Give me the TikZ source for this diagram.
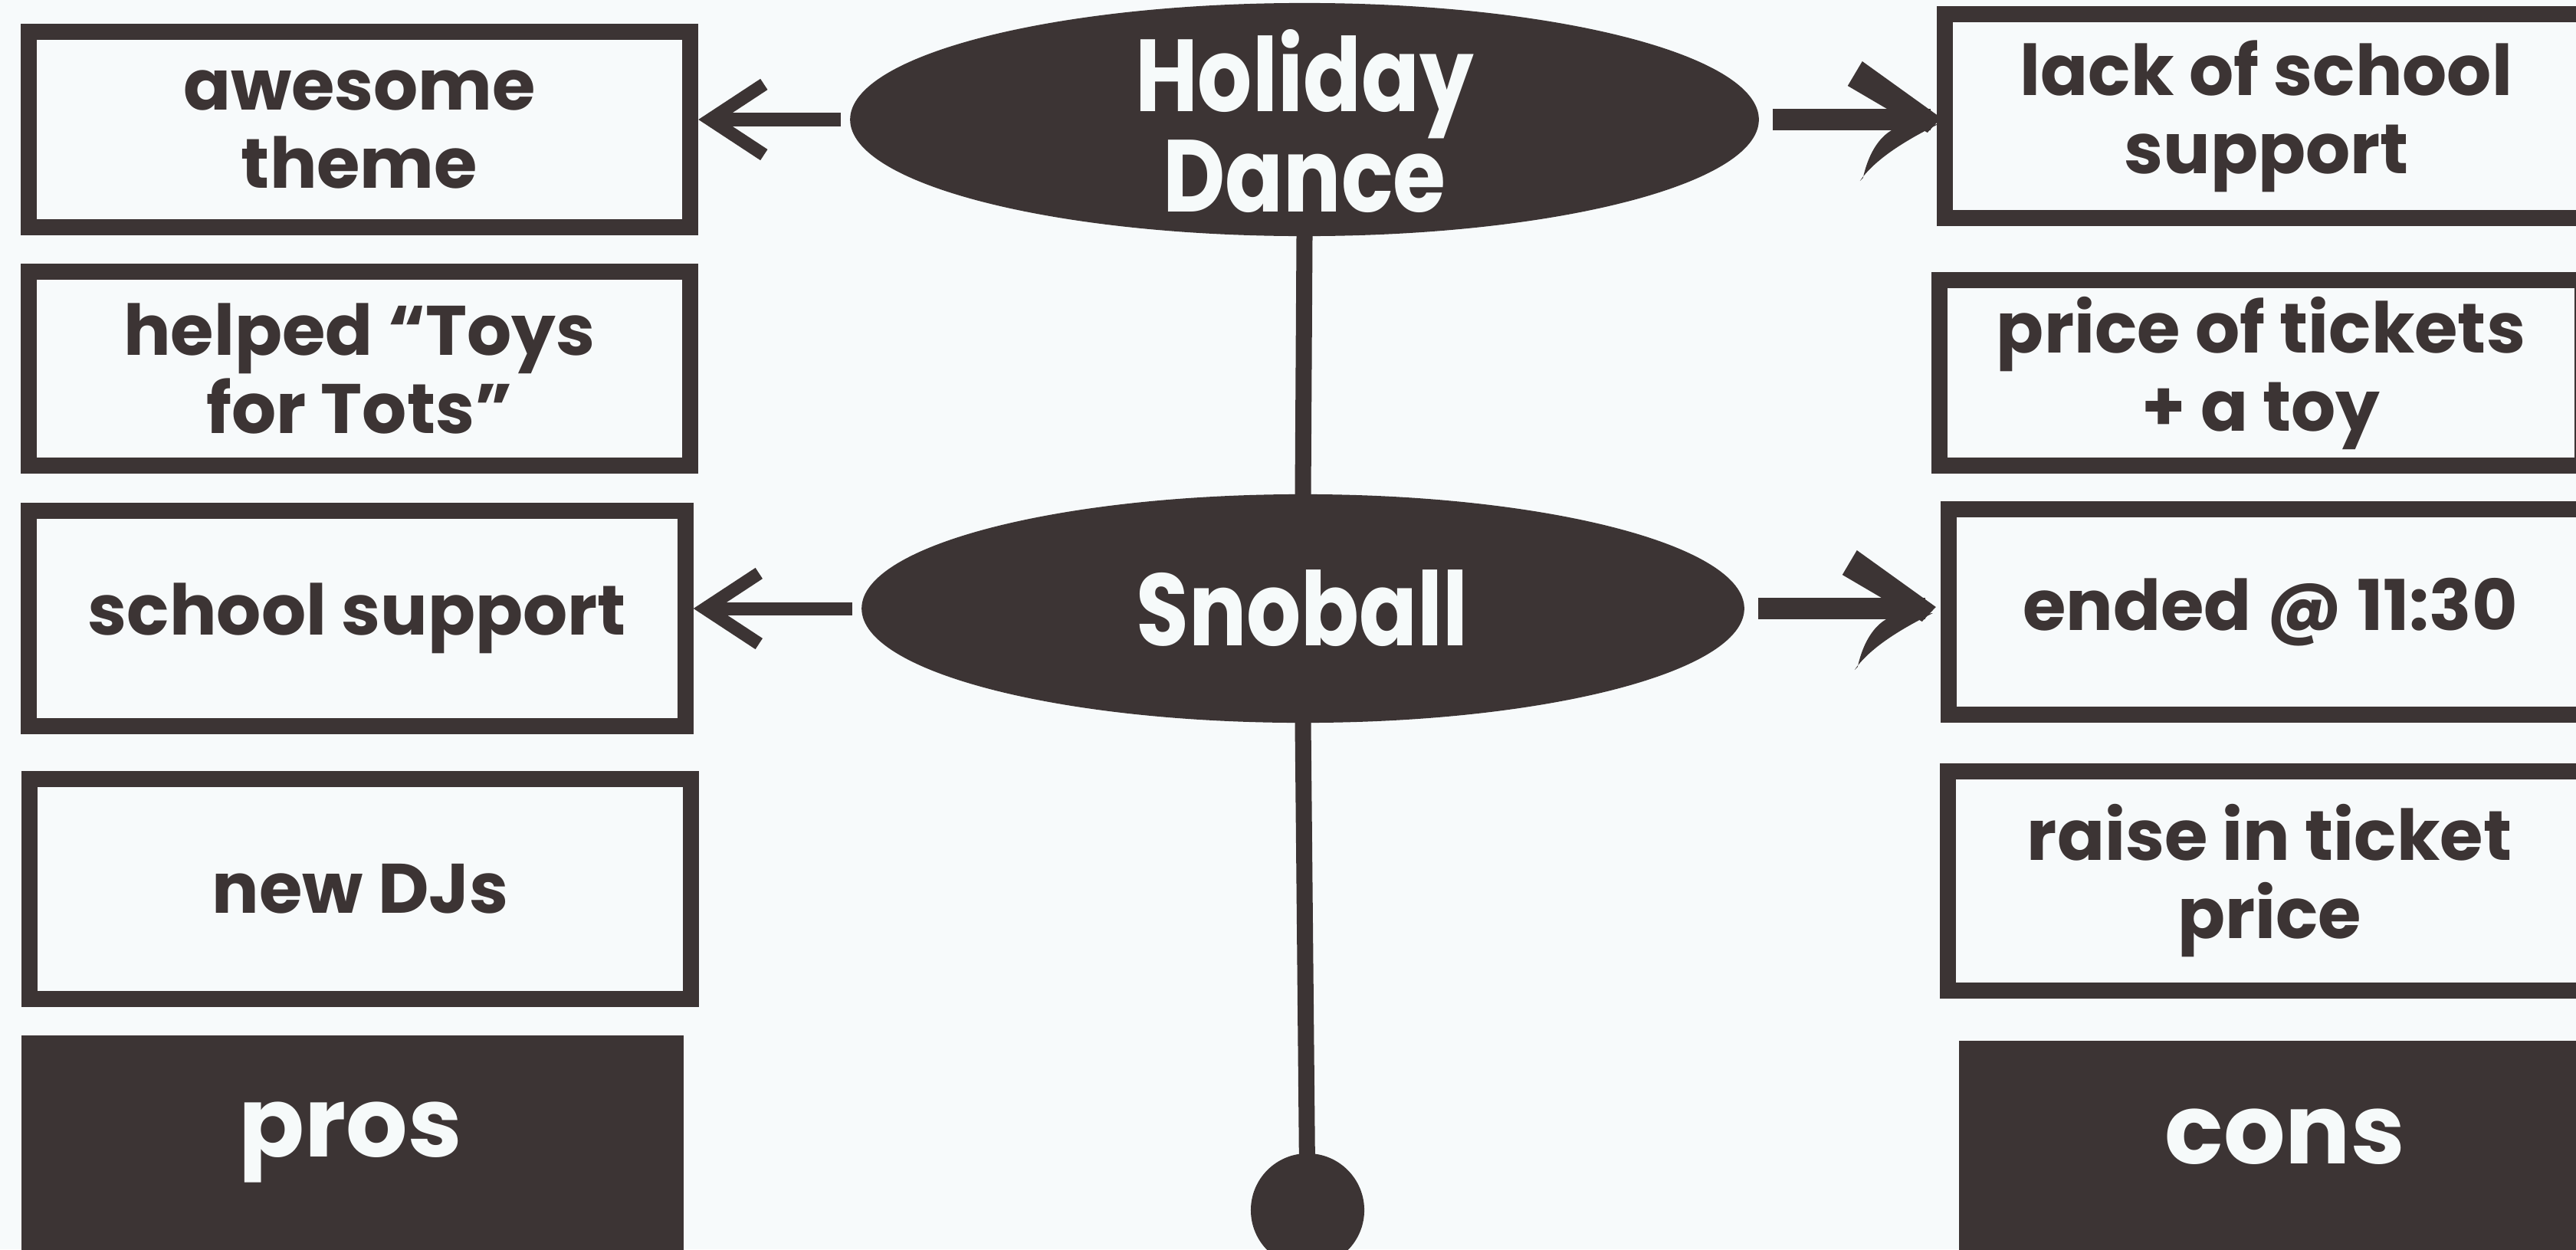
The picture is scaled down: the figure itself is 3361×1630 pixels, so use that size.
\documentclass[tikz,border=0pt]{standalone}
\usepackage{fontspec}
\setmainfont{Poppins}
\newfontfamily\ellfont{Poppins}[FakeStretch=0.837]
\usetikzlibrary{shapes.geometric,arrows.meta}
\definecolor{ink}{RGB}{60,52,52}
\definecolor{paper}{RGB}{247,250,251}
\definecolor{snow}{RGB}{246,250,250}
\newcommand{\tightlines}{\setlength{\lineskiplimit}{-60pt}}
\tikzset{
  box/.style={draw=ink, line width=0.21cm, fill=paper, text=ink, align=center,
    inner sep=0pt, font=\bfseries\fontsize{26}{29}\selectfont},
  lbox/.style={box, minimum width=8.63cm},
  rbox/.style={box, minimum width=8.39cm},
  ell/.style={ellipse, fill=ink, inner sep=0pt, outer sep=0pt},
  elltext/.style={text=snow, align=center, inner sep=0pt,
    font={\ellfont\bfseries\fontsize{38}{37}\selectfont\tightlines}},
  tag/.style={text=snow, font=\bfseries\fontsize{36}{40}\selectfont, anchor=base},
  vline/.style={draw=ink, line width=0.21cm},
  larrow/.style={draw=ink, line width=0.17cm, shorten <=0.12cm,
    -{Straight Barb[length=0.7cm,width=0.92cm]}},
  rline/.style={draw=ink, line width=0.28cm, shorten <=0.18cm, shorten >=0.08cm},
  rhead/.pic={
    \fill[ink] (-97,-76) -- (6,-2) -- (-12,17) -- (-116,-44) -- cycle;
    \fill[ink] (2,6) .. controls (-30,22) and (-78,48) .. (-100,80)
      -- (-96,76) .. controls (-88,40) and (-72,20) .. (-55,12) -- cycle;
  }
}
\begin{document}
\begin{tikzpicture}[x=0.01cm,y=-0.01cm]
\fill[paper] (0,0) rectangle (3361,1630);
\useasboundingbox (0,0) rectangle (3361,1630);
\clip (0,0) rectangle (3361,1630);

% left column
\node[lbox, minimum height=2.55cm] (l1) at (469,169) {awesome\\theme};
\node[lbox, minimum height=2.53cm] (l2) at (469,481) {helped “Toys\\for Tots”};
\node[lbox, minimum height=2.81cm, minimum width=8.56cm] (l3) at (466,807) {school support};
\node[lbox, minimum height=2.87cm] (l4) at (470,1160) {new DJs};
\fill[ink] (28,1351) rectangle (892,1660);
\node[tag] (pros) at (457,1509) {pros};

% right column
\node[rbox, minimum height=2.66cm] (r1) at (2957,151.5) {lack of school\\support};
\node[rbox, minimum height=2.42cm] (r2) at (2950,486.5) {price of tickets\\+ a toy};
\node[rbox, minimum height=2.68cm] (r3) at (2962,798.5) {ended @ 11:30};
\node[rbox, minimum height=2.86cm] (r4) at (2961,1149.5) {raise in ticket\\price};
\fill[ink] (2556,1358) rectangle (3420,1660);
\node[tag] (cons) at (2981,1518) {cons};

% centre spine
\node[ell, minimum width=11.85cm, minimum height=3.04cm] (hd) at (1702,156) {};
\node[elltext] (hdt) at (1702,158) {Holiday\\Dance};
\node[ell, minimum width=11.51cm, minimum height=2.98cm] (sb) at (1700,794) {};
\node[elltext] (sbt) at (1699,794) {Snoball};
\node[circle, fill=ink, inner sep=0pt, minimum size=1.48cm] (dot) at (1706,1579) {};

\draw[vline] (hd.south) -- (sb.north);
\draw[vline] (sb.south) -- (dot.center);

% arrows
\draw[larrow] (hd.west) -- (hd.west -| l1.east);
\draw[larrow] (sb.west) -- (sb.west -| l3.east);
\draw[rline] (hd.east) -- (hd.east -| r1.west);
\pic at (hd.east -| r1.west) {rhead};
\draw[rline] (sb.east) -- ([xshift=-0.12cm]sb.east -| r3.west);
\pic at ([xshift=-0.12cm]sb.east -| r3.west) {rhead};
\end{tikzpicture}
\end{document}
